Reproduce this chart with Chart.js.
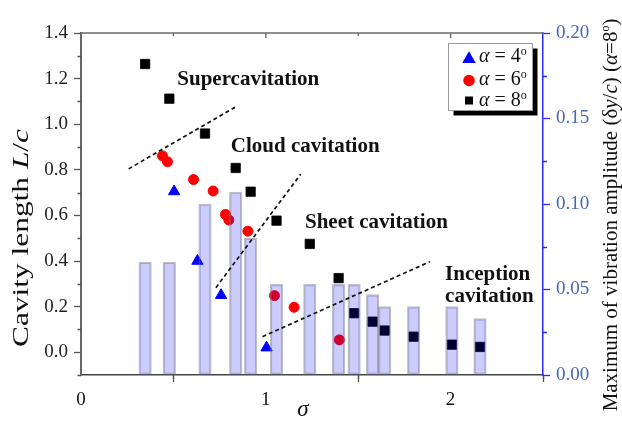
<!DOCTYPE html>
<html>
<head>
<meta charset="utf-8">
<script src="https://cdn.jsdelivr.net/npm/chart.js@4.4.0/dist/chart.umd.min.js"></script>
<style>
  html, body { margin: 0; padding: 0; background: #fff; }
  #wrap { width: 622px; height: 421px; }
</style>
</head>
<body>
<div id="wrap"><canvas id="c" width="622" height="421"></canvas></div>
<script>
// Cavity length L/c against cavitation number sigma, for three angles of attack
const sigma4 = [0.504, 0.630, 0.758, 1.004];
const len4   = [0.705, 0.400, 0.250, 0.020];

const sigma6 = [0.441, 0.468, 0.609, 0.715, 0.782, 0.800, 0.903, 1.047, 1.153, 1.398];
const len6   = [0.861, 0.835, 0.757, 0.707, 0.604, 0.580, 0.531, 0.248, 0.197, 0.054];

const sigma8 = [0.347, 0.478, 0.671, 0.837, 0.918, 1.058, 1.238, 1.394, 1.478, 1.578, 1.643, 1.800, 2.007, 2.159];
const len8   = [1.264, 1.112, 0.959, 0.808, 0.704, 0.577, 0.475, 0.325, 0.171, 0.134, 0.095, 0.068, 0.033, 0.023];

// Maximum vibration amplitude (delta y / c) at alpha = 8 deg, same sigma values
const ampMax = [0.066, 0.066, 0.100, 0.107, 0.080, 0.053, 0.053, 0.053, 0.053, 0.047, 0.040, 0.040, 0.040, 0.033];

// Regime boundaries (dashed), endpoints in (sigma, L/c)
const boundSuperSigma = [0.258, 0.839];
const boundSuperLen   = [0.804, 1.077];
const boundCloudSigma = [0.730, 1.189];
const boundCloudLen   = [0.283, 0.781];
const boundSheetSigma = [0.982, 1.888];
const boundSheetLen   = [0.068, 0.397];

// Tick values
const xTicks = [0, 1, 2];
const xMinor = [0.5, 1.5, 2.5];
const lenTicks = [0.0, 0.2, 0.4, 0.6, 0.8, 1.0, 1.2, 1.4];
const lenMinor = [-0.1, 0.1, 0.3, 0.5, 0.7, 0.9, 1.1, 1.3];
const ampTicks = [0.00, 0.05, 0.10, 0.15, 0.20];
const ampMinor = [0.025, 0.075, 0.125, 0.175];

// Regime labels
const regimeNames = ['Supercavitation', 'Cloud cavitation', 'Sheet cavitation', 'Inception', 'cavitation'];
const regimeAnchors = [[0.521, 1.172], [0.811, 0.880], [1.212, 0.546], [1.970, 0.317], [1.970, 0.222]];

const SERIF = '"Liberation Serif", "Times New Roman", serif';

const pts = (xs, ys) => xs.map((v, i) => ({ x: v, y: ys[i] }));

function fontOf(s, size) {
  const sz = s.sup ? Math.round(size * 0.58) : size;
  return (s.i ? 'italic ' : '') + (s.b ? 'bold ' : '') + sz + 'px ' + SERIF;
}
function richWidth(ctx, segs, size) {
  let w = 0;
  segs.forEach(s => { ctx.font = fontOf(s, size); s.w = ctx.measureText(s.t).width; w += s.w; });
  return w;
}
function drawRich(ctx, segs, x, y, size) {
  let cx = x;
  segs.forEach(s => {
    ctx.font = fontOf(s, size);
    ctx.fillText(s.t, cx, y + (s.sup ? -size * 0.36 : 0));
    cx += s.w;
  });
}

const decorations = {
  id: 'decorations',
  afterDraw(chart) {
    const { ctx, chartArea: a, scales } = chart;
    const sx = scales.x, sy = scales.y, sy2 = scales.y2;
    ctx.save();

    // top frame line with inward ticks
    ctx.strokeStyle = '#6a6a6a';
    ctx.lineWidth = 1.4;
    ctx.beginPath();
    ctx.moveTo(a.left, a.top);
    ctx.lineTo(a.right, a.top);
    ctx.stroke();
    ctx.beginPath();
    xTicks.forEach(v => { if (v > 0) { const px = sx.getPixelForValue(v); ctx.moveTo(px, a.top); ctx.lineTo(px, a.top + 5); } });
    xMinor.forEach(v => { if (v < 2.5) { const px = sx.getPixelForValue(v); ctx.moveTo(px, a.top); ctx.lineTo(px, a.top + 3); } });
    ctx.stroke();

    // minor ticks
    ctx.strokeStyle = '#555';
    ctx.lineWidth = 1.3;
    ctx.beginPath();
    lenMinor.forEach(v => { const py = Math.round(sy.getPixelForValue(v)) + 0.5; ctx.moveTo(a.left, py); ctx.lineTo(a.left - 3.5, py); });
    xMinor.forEach(v => { const px = Math.round(sx.getPixelForValue(v)) + 0.5; ctx.moveTo(px, a.bottom); ctx.lineTo(px, a.bottom + 4); });
    ctx.stroke();
    ctx.strokeStyle = '#2a2aff';
    ctx.beginPath();
    ampMinor.forEach(v => { const py = Math.round(sy2.getPixelForValue(v)) + 0.5; ctx.moveTo(a.right, py); ctx.lineTo(a.right + 4, py); });
    ctx.stroke();

    ctx.fillStyle = '#111';
    ctx.textBaseline = 'alphabetic';
    ctx.textAlign = 'left';

    // left axis title, rotated
    const leftTitle = [{ t: 'Cavity length ' }, { t: 'L', i: true }, { t: '/' }, { t: 'c', i: true }];
    const lw = richWidth(ctx, leftTitle, 23);
    ctx.save();
    ctx.translate(28, 238);
    ctx.rotate(-Math.PI / 2);
    ctx.scale(218 / lw, 1);
    drawRich(ctx, leftTitle, -lw / 2, 0, 23);
    ctx.restore();

    // right axis title, rotated
    const rightTitle = [
      { t: 'Maximum of vibration amplitude (\u03b4' }, { t: 'y', i: true }, { t: '/' }, { t: 'c', i: true },
      { t: ') (' }, { t: '\u03b1', i: true }, { t: '=8' }, { t: 'o', sup: true }, { t: ')' }
    ];
    const rw = richWidth(ctx, rightTitle, 21);
    ctx.save();
    ctx.translate(617, 215);
    ctx.rotate(-Math.PI / 2);
    drawRich(ctx, rightTitle, -rw / 2, 0, 21);
    ctx.restore();

    // x axis title
    ctx.font = 'italic 23px ' + SERIF;
    ctx.textAlign = 'center';
    ctx.fillText('\u03c3', 303, 416);
    ctx.textAlign = 'left';

    // regime labels
    ctx.font = 'bold 21px ' + SERIF;
    regimeNames.forEach((t, i) => {
      const [s, l] = regimeAnchors[i];
      ctx.fillText(t, sx.getPixelForValue(s), sy.getPixelForValue(l));
    });

    // legend box with drop shadow
    const bx = 448, by = 43, bw = 84, bh = 67;
    ctx.fillStyle = '#000';
    ctx.fillRect(bx + 5.5, by + 5.5, bw, bh);
    ctx.fillStyle = '#fff';
    ctx.fillRect(bx, by, bw, bh);
    ctx.strokeStyle = '#999';
    ctx.lineWidth = 1;
    ctx.strokeRect(bx + 0.5, by + 0.5, bw, bh);

    const mx = 469;
    // triangle marker
    ctx.fillStyle = '#0000ff';
    ctx.beginPath();
    const tr = 7.8, tcy = 59;
    ctx.moveTo(mx, tcy - tr);
    ctx.lineTo(mx + tr * 0.866, tcy + tr / 2);
    ctx.lineTo(mx - tr * 0.866, tcy + tr / 2);
    ctx.closePath();
    ctx.fill();
    // circle marker
    ctx.fillStyle = '#ff0000';
    ctx.beginPath();
    ctx.arc(mx, 80.5, 5.7, 0, Math.PI * 2);
    ctx.fill();
    // square marker
    ctx.fillStyle = '#000';
    ctx.fillRect(mx - 4, 96.5, 8, 8);

    ctx.fillStyle = '#111';
    ['4', '6', '8'].forEach((d, i) => {
      const segs = [{ t: '\u03b1', i: true }, { t: ' = ' + d }, { t: 'o', sup: true }];
      richWidth(ctx, segs, 20);
      drawRich(ctx, segs, 479, [62, 85, 106][i], 20);
    });

    ctx.restore();
  }
};

new Chart(document.getElementById('c'), {
  type: 'scatter',
  data: {
    datasets: [
      {
        type: 'line', data: pts(boundSuperSigma, boundSuperLen), xAxisID: 'x', yAxisID: 'y',
        borderColor: '#111', borderWidth: 1.7, borderDash: [4, 3], pointRadius: 0, fill: false, order: -1
      },
      {
        type: 'line', data: pts(boundCloudSigma, boundCloudLen), xAxisID: 'x', yAxisID: 'y',
        borderColor: '#111', borderWidth: 1.7, borderDash: [4, 3], pointRadius: 0, fill: false, order: -1
      },
      {
        type: 'line', data: pts(boundSheetSigma, boundSheetLen), xAxisID: 'x', yAxisID: 'y',
        borderColor: '#111', borderWidth: 1.7, borderDash: [4, 3], pointRadius: 0, fill: false, order: -1
      },
      {
        type: 'bar', label: 'amplitude', data: pts(sigma8, ampMax), xAxisID: 'x', yAxisID: 'y2',
        backgroundColor: 'rgba(0,0,255,0.2)', borderColor: 'rgba(110,110,130,0.45)', borderWidth: 1.5,
        borderSkipped: false, barThickness: 12.5, order: 0
      },
      {
        type: 'scatter', label: 'alpha = 4', data: pts(sigma4, len4), xAxisID: 'x', yAxisID: 'y',
        pointStyle: 'triangle', pointRadius: 6.5, backgroundColor: '#0000ff', borderColor: '#0000ff', borderWidth: 1, order: 2
      },
      {
        type: 'scatter', label: 'alpha = 6', data: pts(sigma6, len6), xAxisID: 'x', yAxisID: 'y',
        pointStyle: 'circle', pointRadius: 5, backgroundColor: '#ff0000', borderColor: '#ff0000', borderWidth: 1, order: 2
      },
      {
        type: 'scatter', label: 'alpha = 8', data: pts(sigma8, len8), xAxisID: 'x', yAxisID: 'y',
        pointStyle: 'rect', pointRadius: 6.6, backgroundColor: '#000', borderColor: '#000', borderWidth: 0.8, order: 2
      }
    ]
  },
  options: {
    responsive: false,
    animation: false,
    devicePixelRatio: 1,
    layout: { padding: { top: 33, left: 0, right: 0, bottom: 0 } },
    plugins: { legend: { display: false }, tooltip: { enabled: false } },
    scales: {
      x: {
        type: 'linear', position: 'bottom', min: 0, max: 2.5, offset: false,
        afterBuildTicks: s => { s.ticks = xTicks.map(v => ({ value: v })); },
        afterFit: s => { s.height = 46; },
        ticks: { font: { family: SERIF, size: 19 }, color: '#111', padding: 7, callback: v => String(v) },
        grid: { display: true, drawOnChartArea: false, drawTicks: true, tickLength: 7, tickColor: '#555', tickWidth: 1.3 },
        border: { display: true, color: '#444', width: 1.5 }
      },
      y: {
        type: 'linear', position: 'left', min: -0.1, max: 1.4,
        afterBuildTicks: s => { s.ticks = lenTicks.map(v => ({ value: v })); },
        afterFit: s => { s.width = 81; },
        ticks: { font: { family: SERIF, size: 19 }, color: '#222', padding: 6, callback: v => Number(v).toFixed(1) },
        grid: { display: true, drawOnChartArea: false, drawTicks: true, tickLength: 7, tickColor: '#555', tickWidth: 1.3 },
        border: { display: true, color: '#666', width: 2 }
      },
      y2: {
        type: 'linear', position: 'right', min: 0, max: 0.2,
        afterBuildTicks: s => { s.ticks = ampTicks.map(v => ({ value: v })); },
        afterFit: s => { s.width = 79; },
        ticks: { font: { family: SERIF, size: 19 }, color: '#4a66b4', padding: 6, callback: v => Number(v).toFixed(2) },
        grid: { display: true, drawOnChartArea: false, drawTicks: true, tickLength: 7, tickColor: '#2a2aff', tickWidth: 1.3 },
        border: { display: true, color: '#2a2aff', width: 1.5 }
      }
    }
  },
  plugins: [decorations]
});
</script>
</body>
</html>
